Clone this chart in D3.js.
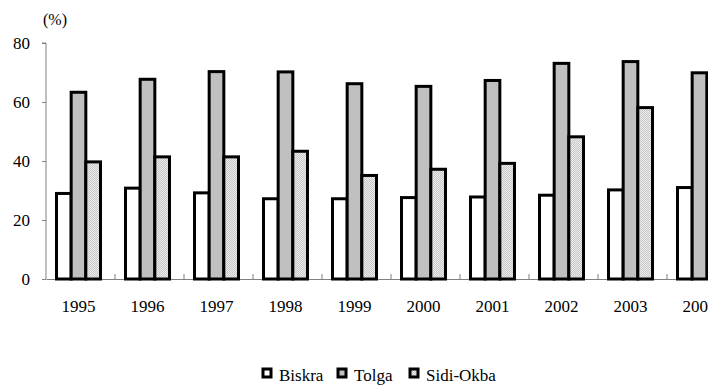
<!DOCTYPE html>
<html>
<head>
<meta charset="utf-8">
<script src="https://cdn.jsdelivr.net/npm/d3@7"></script>
<style>
  body { margin: 0; background: #fff; }
</style>
</head>
<body>
<div id="vis-container"></div>
<script>
// data
let years = ["1995","1996","1997","1998","1999","2000","2001","2002","2003","2004"];
let series = ["Biskra", "Tolga", "Sidi-Okba"];
let biskra = [29.0, 30.8, 29.2, 27.2, 27.2, 27.6, 27.8, 28.4, 30.2, 31.0];
let tolga  = [63.3, 67.7, 70.3, 70.2, 66.2, 65.3, 67.3, 73.1, 73.7, 69.9];
let sidi   = [39.7, 41.4, 41.4, 43.3, 35.1, 37.2, 39.2, 48.2, 58.1, 0];
let yTicks = [0, 20, 40, 60, 80];

let fills = {"Biskra": "#ffffff", "Tolga": "#c0c0c0", "Sidi-Okba": "url(#dots)"};
let serif = "Liberation Serif";

let table = years.map((yr, i) => ({year: yr, "Biskra": biskra[i], "Tolga": tolga[i], "Sidi-Okba": sidi[i]}));

//svg
let svg = d3.select("#vis-container")
  .append("svg")
  .attr("width", 708)
  .attr("height", 385)
  .attr("font-family", serif);

// dotted fill for Sidi-Okba
let pat = svg.append("defs").append("pattern")
  .attr("id", "dots")
  .attr("patternUnits", "userSpaceOnUse")
  .attr("width", 2).attr("height", 2);
pat.append("rect").attr("width", 2).attr("height", 2).attr("fill", "#ececec");
pat.append("rect").attr("width", 1).attr("height", 1).attr("fill", "#c8c8c8");
pat.append("rect").attr("x", 1).attr("y", 1).attr("width", 1).attr("height", 1).attr("fill", "#c8c8c8");

//scales
let x = d3.scaleBand()
  .domain(years)
  .range([46, 736])
  .paddingInner(0).paddingOuter(0);

let x1 = d3.scaleBand()
  .domain(series)
  .range([10.5, 54.5]);

let y = d3.scaleLinear()
  .domain([0, 80])
  .range([279, 43]);

//y axis
let yAxisGroup = svg.append("g")
  .attr("transform", "translate(46,0)")
  .call(d3.axisLeft(y).tickValues(yTicks).tickSize(4).tickPadding(12));
yAxisGroup.attr("font-family", serif).attr("font-size", 17);
yAxisGroup.select(".domain").attr("stroke", "#808080").attr("d", "M-4,43H0V279");
yAxisGroup.selectAll(".tick line").attr("stroke", "#808080");

svg.append("text")
  .attr("x", 43).attr("y", 25)
  .attr("font-size", 16)
  .text("(%)");

//x axis
let xAxisGroup = svg.append("g")
  .attr("transform", "translate(0,279)")
  .call(d3.axisBottom(x).tickSize(0).tickPadding(21));
xAxisGroup.attr("font-family", serif).attr("font-size", 17);
xAxisGroup.select(".domain").attr("stroke", "#808080");
xAxisGroup.selectAll(".tick text").attr("dx", "-2");

// category separators, ticks pointing up
svg.append("g").selectAll("line")
  .data(years.slice(1))
  .join("line")
  .attr("x1", d => x(d)).attr("x2", d => x(d))
  .attr("y1", 274).attr("y2", 279)
  .attr("stroke", "#808080");

//bars
let groups = svg.append("g").selectAll("g")
  .data(table)
  .join("g")
  .attr("transform", d => `translate(${x(d.year)},0)`);

groups.selectAll("rect")
  .data(d => series.map(s => ({key: s, value: d[s]})).filter(e => e.value > 0))
  .join("rect")
  .attr("x", d => x1(d.key))
  .attr("width", x1.bandwidth())
  .attr("y", d => y(d.value))
  .attr("height", d => y(0) - y(d.value))
  .attr("fill", d => fills[d.key])
  .attr("stroke", "#000")
  .attr("stroke-width", 3);

//legend
let legendX = [263, 338, 410];
let gLegend = svg.append("g")
  .attr("font-size", 17);
let items = gLegend.selectAll("g")
  .data(series)
  .join("g")
  .attr("transform", (d, i) => `translate(${legendX[i]},369)`);
items.append("rect")
  .attr("width", 8).attr("height", 8)
  .attr("fill", d => fills[d])
  .attr("stroke", "#000")
  .attr("stroke-width", 3);
items.append("text")
  .attr("x", 16).attr("y", 12)
  .text(d => d);
</script>
</body>
</html>
